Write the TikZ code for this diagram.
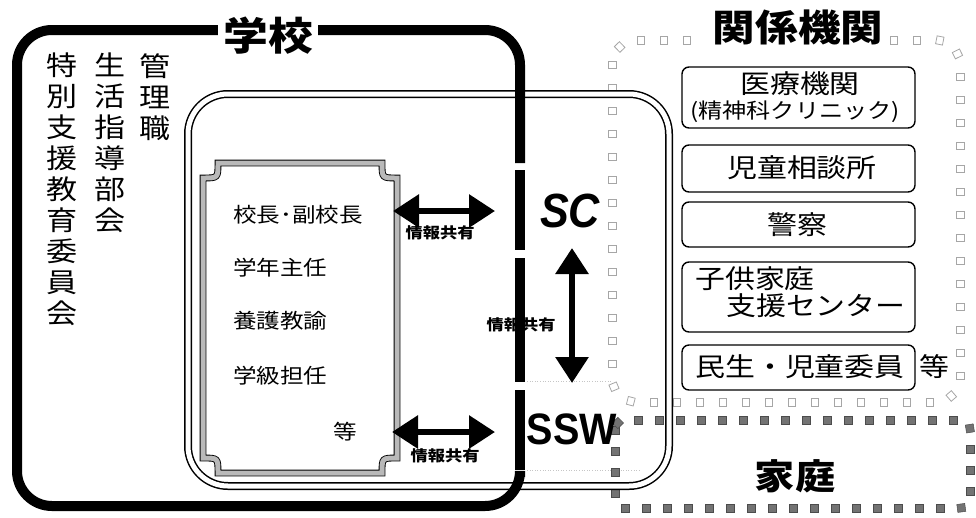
\documentclass[tikz,border=0pt]{standalone}
\usepackage{fontspec}
\usetikzlibrary{arrows.meta,decorations.markings}
\newfontfamily\jp[FakeStretch=1.15]{Noto Sans CJK JP}
\newfontfamily\lat[FakeStretch=0.9]{Liberation Sans}
\begin{document}
\begin{tikzpicture}[x=1pt,y=-1pt,
  every node/.style={inner sep=0pt},
  thickline/.style={line width=10pt,line cap=butt},
  dblarrow/.style={line width=6pt,{Triangle[length=26pt 0 0,width=32pt 0 0]}-{Triangle[length=26pt 0 0,width=32pt 0 0]}},
  infolabel/.style={font=\jp\bfseries\fontsize{15}{15}\selectfont},
  vcol/.style={font=\jp\fontsize{27}{31}\selectfont,align=center,anchor=north},
  innertext/.style={font=\jp\fontsize{20.5}{20.5}\selectfont},
  rbox/.style={draw,line width=1.4pt,rounded corners=7pt,minimum width=233pt},
  rtext/.style={font=\jp\fontsize{26}{26}\selectfont},
  rsmall/.style={font=\jp\fontsize{21}{21}\selectfont},
  bigtitle/.style={font=\jp\bfseries\fontsize{39}{39}\selectfont},
  hollowsq/.style={sharp corners,draw=gray!70,line width=0.8pt},
  darksq/.style={sharp corners,fill=black!55,draw=black!70,line width=0.5pt},
  faint/.style={draw=gray!45,dotted,line width=0.6pt}
]
\useasboundingbox (0,0) rectangle (976,517);

% faint dotted lines around SSW
\draw[faint] (527,381) -- (612,381);
\draw[faint] (527,470) -- (640,470);

% 関係機関 boundary (hollow squares)
\path[rounded corners=25pt,postaction={decorate},
  decoration={markings,mark=between positions 0 and 1 step 23pt with {\draw[hollowsq] (-3.5pt,-4pt) rectangle (3.5pt,4pt);}}]
  (612,40) rectangle (960,402);
\node[font=\jp\bfseries\fontsize{37}{37}\selectfont,fill=white,inner xsep=7pt,inner ysep=2pt] (kankei) at (798,27) {関係機関};

% 家庭 boundary (dark squares)
\path[rounded corners=10pt,postaction={decorate},
  decoration={markings,mark=between positions 0 and 1 step 21pt with {\draw[darksq] (-4pt,-4pt) rectangle (4pt,4pt);}}]
  (615,420) rectangle (970,508);
\node[font=\jp\bfseries\fontsize{35}{35}\selectfont] (katei) at (795,476) {家庭};

% double-line rounded rectangle
\draw[double,double distance=5pt,line width=1.5pt,rounded corners=40pt] (188,94) rectangle (669,486);

% inner fancy box
\draw[double=gray!55,double distance=5pt,line width=0.9pt]
  (218,163) -- (382,163) .. controls (382,178) .. (397,178) -- (397,458)
  .. controls (382,458) .. (382,473) -- (218,473) .. controls (218,458) .. (203,458)
  -- (203,178) .. controls (218,178) .. (218,163) -- cycle;

% thick school frame
\draw[thickline,rounded corners=35pt] (520,163) -- (520,30) -- (17,30) -- (17,506) -- (520,506) -- (520,477);
\draw[thickline] (520,170) -- (520,250);
\draw[thickline] (520,258) -- (520,382);
\draw[thickline] (520,390) -- (520,470);
\node[bigtitle,fill=white,inner xsep=5pt,inner ysep=2pt] (gakko) at (268,36) {学校};

% left vertical columns
\node[vcol] (kanri) at (155,53) {管\\理\\職};
\node[vcol] (seikatsu) at (110,53) {生\\活\\指\\導\\部\\会};
\node[vcol] (tokubetsu) at (62,53) {特\\別\\支\\援\\教\\育\\委\\員\\会};

% inner box texts
\node[innertext,anchor=west] (t1) at (233,215) {校長･副校長};
\node[innertext,anchor=west] (t2) at (233,268) {学年主任};
\node[innertext,anchor=west] (t3) at (233,321) {養護教諭};
\node[innertext,anchor=west] (t4) at (233,376) {学級担任};
\node[innertext] (t5) at (345,432) {等};

% SC and SSW
\node[font=\lat\bfseries\itshape\fontsize{48}{48}\selectfont] (sc) at (570,211) {SC};
\node[font=\lat\bfseries\fontsize{44}{44}\selectfont] (ssw) at (572,429) {SSW};

% arrows
\coordinate (a1l) at (393,211); \coordinate (a1r) at (495,211);
\coordinate (a2l) at (392,432); \coordinate (a2r) at (495,432);
\coordinate (a3t) at (572,248); \coordinate (a3b) at (572,383);
\draw[dblarrow] (a1l) -- (a1r);
\draw[dblarrow] (a2l) -- (a2r);
\draw[dblarrow] (a3t) -- (a3b);
\node[infolabel] (l1) at (440,233) {情報共有};
\node[infolabel] (l2) at (445,456) {情報共有};
\node[infolabel] (l3) at (521,325) {情報共有};

% related agencies boxes
\node[rbox,minimum height=61pt] (med) at (798.5,97.5) {};
\node[rtext] (medt) at (800,84) {医療機関};
\node[rsmall] (medt2) at (795,112) {(精神科クリニック)};
\node[rbox,minimum height=47pt] (jido) at (798.5,168.5) {};
\node[rtext] (jidot) at (802,168) {児童相談所};
\node[rbox,minimum height=45pt] (police) at (798.5,224.5) {};
\node[rtext] (policet) at (797,225) {警察};
\node[rbox,minimum height=70pt] (kodomo) at (798.5,297) {};
\node[rtext,anchor=west] (kodomot1) at (695,279) {子供家庭};
\node[rtext,anchor=west] (kodomot2) at (726,306) {支援センター};
\node[rbox,minimum height=45pt] (minsei) at (798.5,367.5) {};
\node[rtext] (minseit) at (800,367) {民生・児童委員};
\node[rtext] (nado) at (934,367) {等};
\end{tikzpicture}
\end{document}
